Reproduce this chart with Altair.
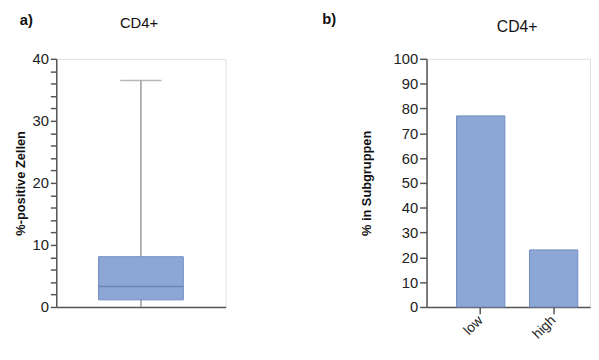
import altair as alt
import pandas as pd

# Panel a) box plot summary
box_group = ["CD4+"]
box_min = [0.0]
box_q1 = [1.15]
box_median = [3.3]
box_q3 = [8.1]
box_max = [36.5]

# Panel b) bar chart
bar_categories = ["low", "high"]
bar_values = [77, 23]

# Panel labels
panel_letters = ["a)", "b)"]
panel_titles = ["CD4+", "CD4+"]

FONT = "Liberation Sans"
AXIS_COLOR = "#555555"
FILL = "#8ca7d6"
STROKE = "#6f8bbf"
PLOT_H = 252

box_df = pd.DataFrame({
    "group": box_group, "min": box_min, "q1": box_q1,
    "median": box_median, "q3": box_q3, "max": box_max,
})
bar_df = pd.DataFrame({"cat": bar_categories, "val": bar_values})
lab_a = pd.DataFrame({"letter": [panel_letters[0]], "title": [panel_titles[0]]})
lab_b = pd.DataFrame({"letter": [panel_letters[1]], "title": [panel_titles[1]]})

xa = alt.X("group:N", title=None,
           scale=alt.Scale(paddingInner=0, paddingOuter=0),
           axis=alt.Axis(labels=False, ticks=False, domainColor=AXIS_COLOR,
                         domainWidth=1.5))
yscale_a = alt.Scale(domain=[0, 40], nice=False)
ya_axis = alt.Axis(values=list(range(0, 41, 2)),
                   labelExpr="datum.value % 10 === 0 ? datum.label : ''",
                   labelOverlap=False,
                   tickSize=6,
                   labelFontSize=15, labelColor="#222", labelFont=FONT,
                   labelPadding=2, grid=False,
                   domainColor=AXIS_COLOR, tickColor=AXIS_COLOR, domainWidth=1.5,
                   tickWidth=1.5, title="%-positive Zellen", titleFont=FONT,
                   titleFontSize=13, titleFontWeight="bold", titleColor="#111",
                   titlePadding=5)


def ya(field):
    return alt.Y(field, scale=yscale_a, axis=ya_axis)


base_a = alt.Chart(box_df)
whisker = base_a.mark_rule(color="#9a9a9a", strokeWidth=1.5).encode(
    x=xa, y=ya("min:Q"), y2="max:Q")
cap = base_a.mark_tick(color="#9a9a9a", size=42, thickness=1.5, orient="horizontal").encode(
    x=xa, y=ya("max:Q"))
box = base_a.mark_bar(color=FILL, stroke=STROKE, strokeWidth=1,
                      width={"band": 0.5}).encode(
    x=xa, y=ya("q1:Q"), y2="q3:Q")
med = base_a.mark_tick(color="#5a76aa", size=86, thickness=1.5, orient="horizontal").encode(
    x=xa, y=ya("median:Q"))
label_a = alt.Chart(lab_a).mark_text(font=FONT, fontSize=15, fontWeight="bold",
                                     color="#111", align="left", baseline="middle").encode(
    text="letter:N", x=alt.value(-37), y=alt.value(-39))
title_a = alt.Chart(lab_a).mark_text(font=FONT, fontSize=15,
                                     color="#111", align="center", baseline="middle").encode(
    text="title:N", x=alt.value(84), y=alt.value(-36))

panel_a = alt.layer(whisker, box, med, cap, label_a, title_a).properties(
    width=172, height=PLOT_H)

bar_chart = alt.Chart(bar_df).mark_bar(color=FILL, stroke=STROKE, strokeWidth=1).encode(
    x=alt.X("cat:N", sort=bar_categories, title=None,
            scale=alt.Scale(paddingInner=0.338, paddingOuter=0.29, align=0.71),
            axis=alt.Axis(labelAngle=-45, labelAlign="right", labelBaseline="middle",
                          labelFontSize=14, labelFont=FONT,
                          labelColor="#222", tickSize=7, tickWidth=1.5,
                          tickColor=AXIS_COLOR, domainColor=AXIS_COLOR,
                          domainWidth=1.5, labelPadding=4)),
    y=alt.Y("val:Q", scale=alt.Scale(domain=[0, 100], nice=False),
            axis=alt.Axis(values=list(range(0, 101, 10)), labelFontSize=15,
                          labelFont=FONT, labelColor="#222", tickSize=7,
                          tickWidth=1.5, tickColor=AXIS_COLOR,
                          domainColor=AXIS_COLOR, domainWidth=1.5, grid=False,
                          labelPadding=2, title="% in Subgruppen", titleFont=FONT,
                          titleFontSize=13, titleFontWeight="bold",
                          titleColor="#111", titlePadding=20)),
)
label_b = alt.Chart(lab_b).mark_text(font=FONT, fontSize=15, fontWeight="bold",
                                     color="#111", align="left", baseline="middle").encode(
    text="letter:N", x=alt.value(-106), y=alt.value(-40.5))
title_b = alt.Chart(lab_b).mark_text(font=FONT, fontSize=16,
                                     color="#111", align="center", baseline="middle").encode(
    text="title:N", x=alt.value(92), y=alt.value(-32))

panel_b = alt.layer(bar_chart, label_b, title_b).properties(
    width=166, height=PLOT_H)

chart = alt.hconcat(panel_a, panel_b, spacing=96).properties(
    padding={"left": 5, "top": 1, "right": 0, "bottom": 0}
).configure_view(stroke=None).configure(background="white")

chart.save("out.html", embed_options={"renderer": "svg", "actions": False})
